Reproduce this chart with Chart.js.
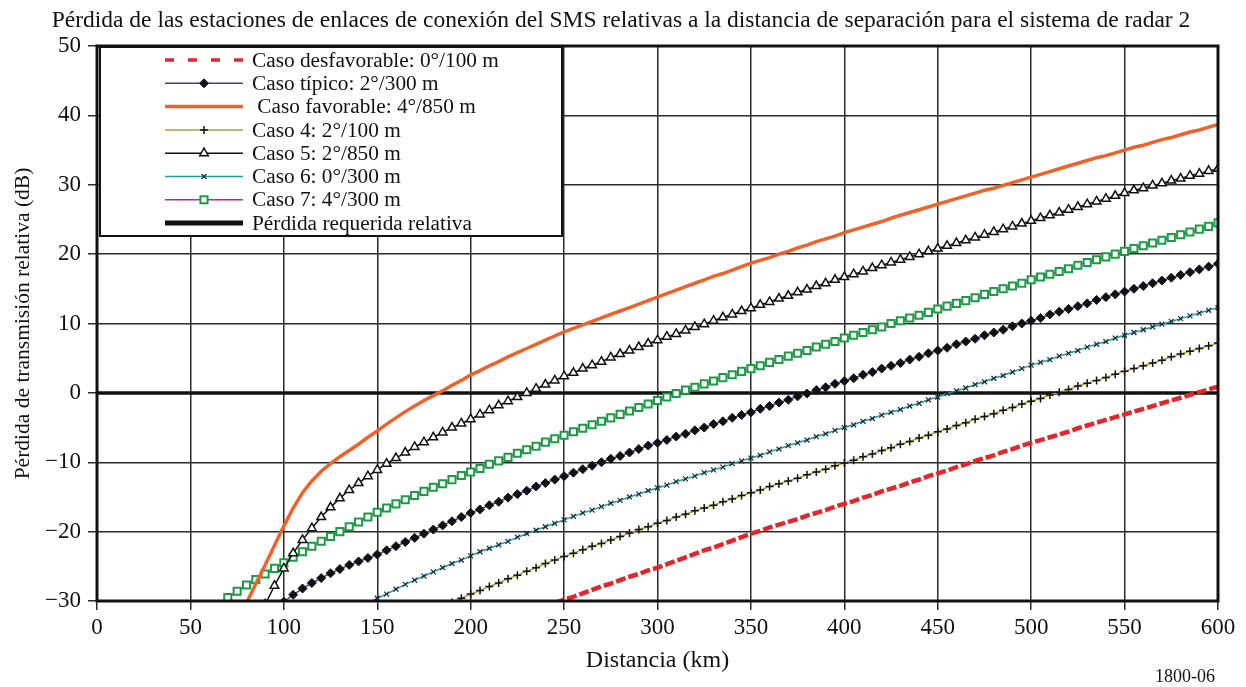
<!DOCTYPE html>
<html>
<head>
<meta charset="utf-8">
<script src="https://cdn.jsdelivr.net/npm/chart.js@4.4.1/dist/chart.umd.min.js"></script>
<style>
  html, body { margin: 0; padding: 0; background: #fff; }
  #wrap { width: 1246px; height: 687px; position: relative; }
</style>
</head>
<body>
<div id="wrap"><canvas id="grafico"></canvas></div>
<script>
// Distancias (km) de muestreo, paso de 5 km
const distancias = [
  65, 70, 75, 80, 85, 90, 95,
  100, 105, 110, 115, 120, 125, 130, 135, 140, 145,
  150, 155, 160, 165, 170, 175, 180, 185, 190, 195,
  200, 205, 210, 215, 220, 225, 230, 235, 240, 245,
  250, 255, 260, 265, 270, 275, 280, 285, 290, 295,
  300, 305, 310, 315, 320, 325, 330, 335, 340, 345,
  350, 355, 360, 365, 370, 375, 380, 385, 390, 395,
  400, 405, 410, 415, 420, 425, 430, 435, 440, 445,
  450, 455, 460, 465, 470, 475, 480, 485, 490, 495,
  500, 505, 510, 515, 520, 525, 530, 535, 540, 545,
  550, 555, 560, 565, 570, 575, 580, 585, 590, 595,
  600
];

// Cada serie termina en 600 km; empieza donde cruza -30 dB
const casoDesfavorable = [
  -30.3,
  -29.8, -29.4, -28.9, -28.4, -27.9, -27.5, -27.0, -26.5, -26.1, -25.6,
  -25.2, -24.7, -24.2, -23.7, -23.2, -22.7, -22.3, -21.8, -21.3, -20.8,
  -20.3, -19.9, -19.4, -19.0, -18.6, -18.2, -17.7, -17.3, -16.9, -16.4,
  -16.0, -15.6, -15.1, -14.7, -14.2, -13.8, -13.4, -12.9, -12.5, -12.0,
  -11.6, -11.2, -10.7, -10.3, -9.8, -9.4, -9.0, -8.5, -8.1, -7.6,
  -7.2, -6.8, -6.4, -6.0, -5.6, -5.1, -4.7, -4.3, -3.9, -3.5,
  -3.1, -2.7, -2.3, -1.9, -1.5, -1.1, -0.7, -0.3, 0.1, 0.5,
  0.9
];
const casoTipico = [
  -30.1, -29.1, -28.2, -27.4, -26.7, -26.0, -25.4, -24.8, -24.3, -23.8,
  -23.3, -22.7, -22.1, -21.5, -20.9, -20.3, -19.7, -19.1, -18.5, -17.9,
  -17.3, -16.8, -16.2, -15.7, -15.1, -14.6, -14.1, -13.5, -13.0, -12.5,
  -12.0, -11.5, -11.0, -10.5, -10.0, -9.5, -9.1, -8.6, -8.1, -7.6,
  -7.2, -6.8, -6.3, -5.9, -5.4, -5.0, -4.5, -4.1, -3.6, -3.2,
  -2.8, -2.3, -1.9, -1.4, -1.0, -0.5, -0.1, 0.4, 0.8, 1.3,
  1.7, 2.1, 2.6, 3.0, 3.5, 3.9, 4.3, 4.8, 5.2, 5.7,
  6.1, 6.5, 7.0, 7.4, 7.8, 8.3, 8.7, 9.1, 9.6, 10.0,
  10.4, 10.8, 11.3, 11.7, 12.1, 12.5, 12.9, 13.4, 13.8, 14.2,
  14.6, 15.0, 15.4, 15.8, 16.2, 16.6, 17.0, 17.4, 17.8, 18.2,
  18.6
];
const casoFavorable = [
  -30.3, -27.5, -24.8, -22.0,
  -19.2, -16.6, -14.4, -12.7, -11.3, -10.2, -9.2, -8.3, -7.4, -6.4,
  -5.5, -4.5, -3.6, -2.7, -1.9, -1.1, -0.4, 0.3, 1.1, 1.8,
  2.6, 3.2, 3.9, 4.5, 5.2, 5.8, 6.4, 7.0, 7.6, 8.2,
  8.8, 9.3, 9.8, 10.3, 10.8, 11.3, 11.8, 12.3, 12.8, 13.3,
  13.8, 14.3, 14.8, 15.3, 15.8, 16.3, 16.8, 17.2, 17.7, 18.2,
  18.7, 19.1, 19.5, 20.0, 20.4, 20.9, 21.3, 21.8, 22.2, 22.6,
  23.1, 23.5, 23.9, 24.3, 24.7, 25.2, 25.6, 26.0, 26.4, 26.8,
  27.2, 27.6, 28.0, 28.4, 28.8, 29.2, 29.5, 29.9, 30.3, 30.7,
  31.1, 31.5, 31.9, 32.3, 32.7, 33.1, 33.5, 33.9, 34.2, 34.6,
  35.0, 35.4, 35.7, 36.1, 36.5, 36.8, 37.2, 37.6, 37.9, 38.3,
  38.7
];
const caso4 = [
  -30.2, -29.6,
  -29.0, -28.5, -27.9, -27.4, -26.8, -26.3, -25.7, -25.2, -24.6, -24.1,
  -23.6, -23.1, -22.6, -22.1, -21.7, -21.2, -20.7, -20.2, -19.7, -19.3,
  -18.8, -18.4, -17.9, -17.5, -17.0, -16.6, -16.2, -15.7, -15.3, -14.8,
  -14.4, -14.0, -13.5, -13.1, -12.7, -12.3, -11.8, -11.4, -11.0, -10.5,
  -10.1, -9.7, -9.2, -8.8, -8.3, -7.9, -7.4, -7.0, -6.5, -6.1,
  -5.6, -5.2, -4.7, -4.3, -3.8, -3.4, -3.0, -2.5, -2.1, -1.6,
  -1.2, -0.8, -0.3, 0.1, 0.5, 1.0, 1.4, 1.8, 2.2, 2.7,
  3.1, 3.5, 3.9, 4.3, 4.7, 5.2, 5.6, 6.0, 6.4, 6.8,
  7.2
];
const caso5 = [
  -30.5, -27.8,
  -25.3, -23.1, -21.2, -19.5, -17.9, -16.5, -15.2, -14.0, -13.0, -12.0,
  -11.1, -10.2, -9.4, -8.6, -7.8, -7.1, -6.4, -5.7, -5.0, -4.4,
  -3.8, -3.1, -2.5, -1.8, -1.2, -0.6, 0.0, 0.6, 1.2, 1.8,
  2.4, 2.9, 3.5, 4.0, 4.5, 5.1, 5.6, 6.1, 6.6, 7.1,
  7.6, 8.1, 8.5, 9.0, 9.5, 9.9, 10.4, 10.9, 11.3, 11.8,
  12.2, 12.7, 13.1, 13.6, 14.0, 14.5, 14.9, 15.4, 15.8, 16.3,
  16.7, 17.1, 17.5, 18.0, 18.4, 18.8, 19.2, 19.6, 20.0, 20.4,
  20.8, 21.2, 21.6, 22.0, 22.4, 22.8, 23.2, 23.6, 24.0, 24.4,
  24.8, 25.2, 25.6, 26.0, 26.4, 26.8, 27.2, 27.6, 28.0, 28.4,
  28.8, 29.2, 29.5, 29.9, 30.2, 30.6, 30.9, 31.3, 31.6, 32.0,
  32.3
];
const caso6 = [
  -30.3,
  -29.6, -29.0, -28.3, -27.6, -27.0, -26.4, -25.8, -25.2, -24.6, -24.1,
  -23.5, -22.9, -22.4, -21.9, -21.4, -20.8, -20.3, -19.8, -19.3, -18.8,
  -18.3, -17.8, -17.3, -16.9, -16.4, -15.9, -15.5, -15.0, -14.6, -14.1,
  -13.7, -13.3, -12.8, -12.4, -12.0, -11.5, -11.1, -10.7, -10.2, -9.8,
  -9.4, -9.0, -8.5, -8.1, -7.6, -7.2, -6.8, -6.3, -5.9, -5.4,
  -5.0, -4.6, -4.1, -3.7, -3.2, -2.8, -2.4, -1.9, -1.5, -1.0,
  -0.6, -0.1, 0.3, 0.7, 1.2, 1.6, 2.1, 2.5, 3.0, 3.5,
  4.0, 4.4, 4.8, 5.3, 5.7, 6.1, 6.6, 7.0, 7.4, 7.9,
  8.3, 8.7, 9.1, 9.5, 9.9, 10.3, 10.7, 11.1, 11.5, 11.9,
  12.3
];
const caso7 = [
  -30.6, -29.5, -28.6, -27.7, -26.9, -26.1, -25.3,
  -24.5, -23.7, -22.9, -22.1, -21.4, -20.7, -20.0, -19.3, -18.6, -17.9,
  -17.2, -16.6, -16.0, -15.4, -14.8, -14.2, -13.6, -13.1, -12.5, -11.9,
  -11.4, -10.9, -10.3, -9.8, -9.3, -8.7, -8.2, -7.7, -7.1, -6.6,
  -6.1, -5.6, -5.1, -4.6, -4.1, -3.6, -3.1, -2.6, -2.1, -1.6,
  -1.1, -0.6, -0.1, 0.4, 0.8, 1.3, 1.7, 2.2, 2.6, 3.1,
  3.5, 3.9, 4.4, 4.8, 5.3, 5.7, 6.1, 6.6, 7.0, 7.4,
  7.9, 8.3, 8.7, 9.1, 9.5, 10.0, 10.4, 10.8, 11.2, 11.6,
  12.1, 12.5, 12.9, 13.3, 13.7, 14.2, 14.6, 15.0, 15.4, 15.8,
  16.3, 16.7, 17.1, 17.5, 17.9, 18.4, 18.8, 19.2, 19.6, 20.0,
  20.4, 20.8, 21.2, 21.6, 22.0, 22.4, 22.8, 23.2, 23.6, 24.0,
  24.5
];
// Pérdida requerida relativa: 0 dB en todo el rango
const perdidaRequerida = [0, 0];
const rangoRequerida = [0, 600];

const FUENTE = "'Liberation Serif', 'Times New Roman', serif";

// alinea cada serie por el final (600 km)
function puntos(valores) {
  const desde = distancias.length - valores.length;
  return valores.map((v, i) => ({ x: distancias[desde + i], y: v }));
}

// Leyenda dibujada dentro del área del gráfico, arriba a la izquierda
const leyendaInterna = {
  id: "leyendaInterna",
  afterDatasetsDraw(chart) {
    const ctx = chart.ctx;
    const area = chart.chartArea;

    // marco del área del gráfico
    ctx.save();
    ctx.strokeStyle = "#111";
    ctx.lineWidth = 3;
    ctx.strokeRect(area.left, area.top, area.right - area.left, area.bottom - area.top);
    ctx.restore();

    const x0 = area.left + 3, y0 = area.top + 1;
    const w = 462, h = 189;
    ctx.save();
    ctx.fillStyle = "#fff";
    ctx.fillRect(x0, y0, w, h);
    ctx.strokeStyle = "#111";
    ctx.lineWidth = 2;
    ctx.strokeRect(x0, y0, w, h);

    chart.data.datasets.forEach((ds, i) => {
      const y = y0 + 13 + i * 23.3;
      const xa = x0 + 65, xb = x0 + 143;
      ctx.save();
      ctx.strokeStyle = ds.borderColor;
      ctx.lineWidth = ds.legendWidth || ds.borderWidth;
      ctx.setLineDash(ds.legendDash || []);
      ctx.beginPath();
      ctx.moveTo(xa, y);
      ctx.lineTo(xb, y);
      ctx.stroke();
      ctx.setLineDash([]);
      if (ds.pointRadius > 0) {
        ctx.fillStyle = ds.pointBackgroundColor;
        ctx.strokeStyle = ds.pointBorderColor;
        ctx.lineWidth = ds.pointBorderWidth;
        Chart.helpers.drawPoint(ctx, {
          pointStyle: ds.pointStyle,
          radius: ds.pointRadius,
          borderWidth: ds.pointBorderWidth,
          rotation: 0
        }, (xa + xb) / 2, y);
      }
      ctx.restore();
      ctx.fillStyle = "#111";
      ctx.font = "21.3px " + FUENTE;
      ctx.textBaseline = "middle";
      ctx.textAlign = "left";
      ctx.fillText(ds.label, x0 + 152, y + 1);
    });
    ctx.restore();
  },
  afterDraw(chart) {
    const ctx = chart.ctx;
    ctx.save();
    ctx.fillStyle = "#111";
    ctx.font = "23.5px " + FUENTE;
    ctx.textAlign = "center";
    ctx.textBaseline = "alphabetic";
    ctx.fillText("Pérdida de las estaciones de enlaces de conexión del SMS relativas a la distancia de separación para el sistema de radar 2", 621, 27);
    ctx.font = "18px " + FUENTE;
    ctx.textAlign = "left";
    ctx.fillText("1800-06", 1155, 682);
    ctx.restore();
  }
};

const ctx = document.getElementById("grafico").getContext("2d");

new Chart(ctx, {
  type: "line",
  data: {
    datasets: [
      {
        label: "Caso desfavorable: 0°/100 m",
        data: puntos(casoDesfavorable),
        borderColor: "#e3262b",
        borderWidth: 4.5,
        borderDash: [10, 3],
        legendDash: [9, 14],
        legendWidth: 3.5,
        pointRadius: 0
      },
      {
        label: "Caso típico: 2°/300 m",
        data: puntos(casoTipico),
        borderColor: "#4b3c9c",
        borderWidth: 1.5,
        pointStyle: "rectRot",
        pointRadius: 4.5,
        pointBackgroundColor: "#111",
        pointBorderColor: "#111",
        pointBorderWidth: 1
      },
      {
        label: " Caso favorable: 4°/850 m",
        data: puntos(casoFavorable),
        borderColor: "#f0612a",
        borderWidth: 3.5,
        pointRadius: 0
      },
      {
        label: "Caso 4: 2°/100 m",
        data: puntos(caso4),
        borderColor: "#aaa23c",
        borderWidth: 1.5,
        pointStyle: "cross",
        pointRadius: 4,
        pointBackgroundColor: "#111",
        pointBorderColor: "#111",
        pointBorderWidth: 1.5
      },
      {
        label: "Caso 5: 2°/850 m",
        data: puntos(caso5),
        borderColor: "#111",
        borderWidth: 1.5,
        pointStyle: "triangle",
        pointRadius: 5,
        pointBackgroundColor: "#fff",
        pointBorderColor: "#111",
        pointBorderWidth: 1.5
      },
      {
        label: "Caso 6: 0°/300 m",
        data: puntos(caso6),
        borderColor: "#1ba0a0",
        borderWidth: 1.5,
        pointStyle: "crossRot",
        pointRadius: 3.5,
        pointBackgroundColor: "#223",
        pointBorderColor: "#223",
        pointBorderWidth: 1.2
      },
      {
        label: "Caso 7: 4°/300 m",
        data: puntos(caso7),
        borderColor: "#ad2aa8",
        borderWidth: 1.5,
        pointStyle: "rect",
        pointRadius: 5,
        pointBackgroundColor: "#fff",
        pointBorderColor: "#1d9a45",
        pointBorderWidth: 2
      },
      {
        label: "Pérdida requerida relativa",
        data: rangoRequerida.map((d, i) => ({ x: d, y: perdidaRequerida[i] })),
        borderColor: "#111",
        borderWidth: 3.5,
        legendWidth: 5,
        pointRadius: 0
      }
    ]
  },
  options: {
    responsive: true,
    maintainAspectRatio: false,
    animation: false,
    layout: { padding: { top: 46, right: 28, left: 0, bottom: 0 } },
    elements: { line: { tension: 0 } },
    plugins: {
      legend: { display: false },
      tooltip: { enabled: false },
      title: { display: false }
    },
    scales: {
      x: {
        type: "linear",
        min: 0,
        max: 600,
        afterFit(scale) { scale.height = 86; },
        ticks: {
          stepSize: 50,
          maxRotation: 0,
          color: "#111",
          padding: 4,
          font: { family: FUENTE, size: 23 }
        },
        grid: { color: "#2a2a2a", lineWidth: 1.5, tickLength: 9, tickColor: "#2a2a2a", tickWidth: 1.5 },
        border: { display: false },
        title: {
          display: true,
          text: "Distancia (km)",
          color: "#111",
          font: { family: FUENTE, size: 24 },
          padding: { top: 0, bottom: 12 }
        }
      },
      y: {
        min: -30,
        max: 50,
        afterFit(scale) { scale.width = 97; },
        ticks: {
          stepSize: 10,
          color: "#111",
          padding: 7,
          font: { family: FUENTE, size: 23 },
          callback: (v) => (v < 0 ? "\u2212" + Math.abs(v) : String(v))
        },
        grid: { color: "#2a2a2a", lineWidth: 1.5, tickLength: 9, tickColor: "#2a2a2a", tickWidth: 1.5 },
        border: { display: false },
        title: {
          display: true,
          text: "Pérdida de transmisión relativa (dB)",
          color: "#111",
          font: { family: FUENTE, size: 21.5 },
          padding: { top: 10, bottom: 0 }
        }
      }
    }
  },
  plugins: [leyendaInterna]
});
</script>
</body>
</html>
